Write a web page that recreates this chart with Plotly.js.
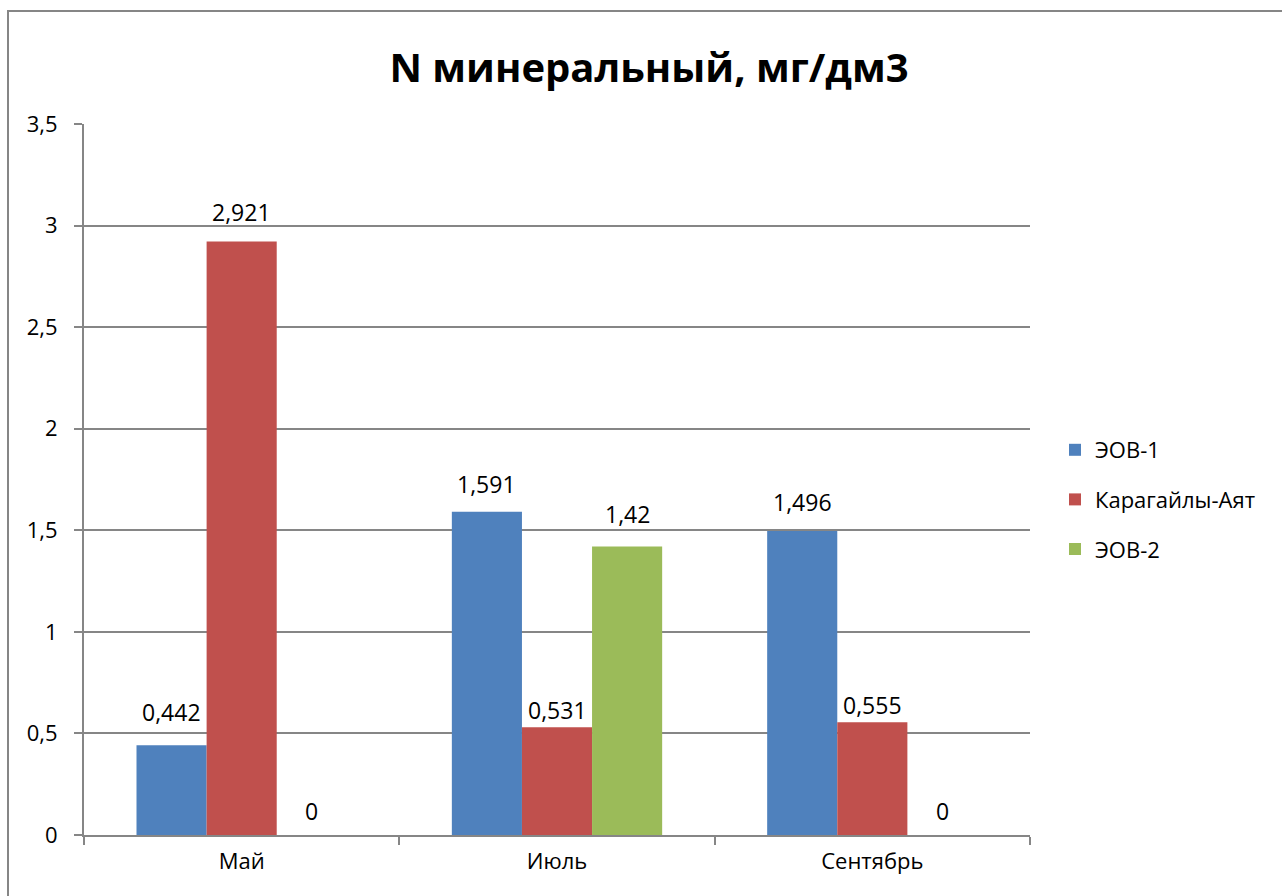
<!DOCTYPE html>
<html><head><meta charset="utf-8">
<script src="https://cdn.plot.ly/plotly-3.0.1.min.js"></script>
<style>body{margin:0;padding:0;background:#fff}#chart{width:1282px;height:896px}</style>
</head><body><div id="chart"></div>
<script>
const categories = ["Май", "Июль", "Сентябрь"];
const seriesNames = ["ЭОВ-1", "Карагайлы-Аят", "ЭОВ-2"];
const eov1 = [0.442, 1.591, 1.496];
const karagaily = [2.921, 0.531, 0.555];
const eov2 = [0, 1.42, 0];
const yTickVals = [0, 0.5, 1, 1.5, 2, 2.5, 3, 3.5];
const yTickText = ["0", "0,5", "1", "1,5", "2", "2,5", "3", "3,5"];
const colors = ["#4F81BD", "#C0504D", "#9BBB59"];
const FONT = "Open Sans, Liberation Sans, sans-serif";
// label lift above each bar top, in pixels (style only, as in the reference)
const labelLift = [[33, 28, 29], [30, 17, 17], [24, 33, 24]];

function fmt(v){ return String(v).replace('.', ','); }

const allSeries = [eov1, karagaily, eov2];
const traces = allSeries.map((vals, i) => ({
  type: 'bar',
  name: seriesNames[i],
  legendgroup: 'g' + i,
  x: categories,
  y: vals,
  marker: {color: colors[i], line: {width: 0}},
  hoverinfo: 'none'
}));

const plotW = 1282 - 84 - 252;
const bargap = 0.333;
const barW = plotW / categories.length * (1 - bargap) / allSeries.length;

const annotations = [];
allSeries.forEach((vals, i) => {
  vals.forEach((v, j) => {
    annotations.push({
      x: categories[j], y: v, xref: 'x', yref: 'y',
      text: fmt(v), showarrow: false,
      xshift: (i - (allSeries.length - 1) / 2) * barW,
      yshift: labelLift[i][j], yanchor: 'middle', xanchor: 'center',
      font: {family: FONT, size: 23, color: '#000'}
    });
  });
});

const layout = {
  width: 1282, height: 896,
  margin: {l: 84, r: 252, t: 124, b: 61},
  paper_bgcolor: '#fff', plot_bgcolor: '#fff',
  font: {family: FONT, size: 23, color: '#000'},
  title: {text: '<b>N минеральный, мг/дм3</b>', font: {family: FONT, size: 40, color: '#000'},
          x: 649/1282, xref: 'container', xanchor: 'center', y: 1 - 68/896, yref: 'container', yanchor: 'middle'},
  barmode: 'group', bargap: bargap, bargroupgap: 0,
  xaxis: {
    type: 'category', showgrid: false, showline: true, linecolor: '#868686', linewidth: 2,
    ticks: 'outside', tickson: 'boundaries', ticklen: 8, tickcolor: '#868686', tickwidth: 2,
    ticklabelstandoff: 6,
    tickfont: {family: FONT, size: 22, color: '#000'}, fixedrange: true
  },
  yaxis: {
    range: [0, 3.5], tickvals: yTickVals, ticktext: yTickText,
    showgrid: true, gridcolor: '#868686', gridwidth: 2, zeroline: false,
    showline: true, linecolor: '#868686', linewidth: 2,
    ticks: 'outside', ticklen: 8, tickcolor: '#868686', tickwidth: 2,
    ticklabelstandoff: 12,
    tickfont: {family: FONT, size: 22, color: '#000'}, fixedrange: true
  },
  legend: {
    x: 1055/1282, xref: 'container', y: 1 - 429/896, yref: 'container',
    xanchor: 'left', yanchor: 'top',
    font: {family: FONT, size: 22, color: '#000'},
    tracegroupgap: 18, itemwidth: 30, bgcolor: 'rgba(0,0,0,0)'
  },
  annotations: annotations,
  shapes: [{
    type: 'rect', xref: 'paper', yref: 'paper',
    x0: (8-84)/946, x1: (1300-84)/946, y0: (835-910)/711, y1: (835-11)/711,
    line: {color: '#868686', width: 2}, fillcolor: 'rgba(0,0,0,0)', layer: 'below'
  }]
};

Plotly.newPlot('chart', traces, layout, {displayModeBar: false, staticPlot: true});
</script></body></html>
